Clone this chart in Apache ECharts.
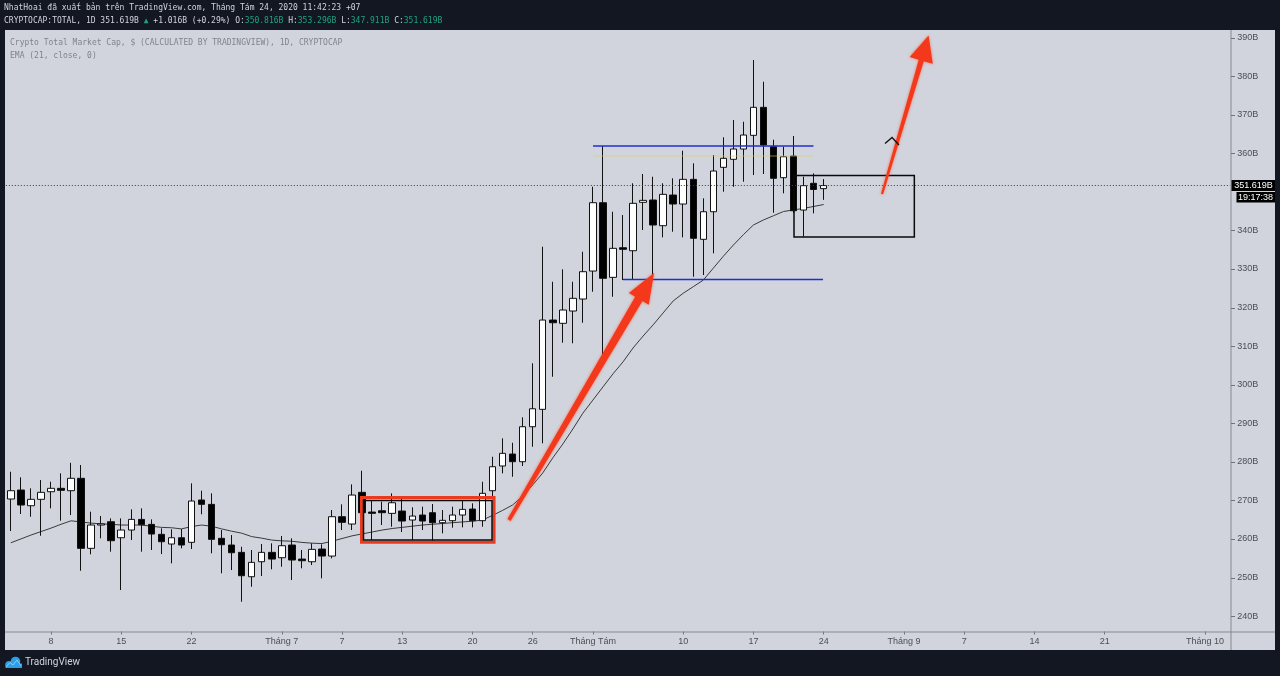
<!DOCTYPE html>
<html>
<head>
<meta charset="utf-8">
<script src="https://cdn.jsdelivr.net/npm/echarts@6/dist/echarts.min.js"></script>
<style>html,body{margin:0;padding:0;background:#131722;}#c{width:1280px;height:676px;}</style>
</head>
<body>
<div id="c"></div>
<script>
// ---------- DATA ----------
const firstDay = [2020, 5, 4];   // 2020-06-04
const dayCount = 122;            // axis runs to 2020-10-03
const categories = [];
for (let i = 0; i < dayCount; i++) {
  const d = new Date(Date.UTC(firstDay[0], firstDay[1], firstDay[2] + i));
  categories.push(d.toISOString().slice(0, 10));
}

const opens  = [270.35,272.68,268.61,270.27,272.24,273.12,272.50,275.72,257.56,263.60,
                264.46,260.31,262.31,265.07,263.78,261.19,258.68,260.31,259.12,270.09,
                268.96,260.16,258.42,256.52,250.20,254.09,256.52,255.13,258.42,254.78,
                254.09,257.38,255.56,265.76,263.86,272.08,266.97,267.31,266.63,267.23,
                264.90,266.20,266.80,264.21,264.73,266.20,267.75,264.73,272.50,278.91,
                282.01,280.02,289.09,293.60,316.75,315.90,319.09,322.20,329.45,347.17,
                327.82,335.50,334.72,347.27,347.87,341.21,349.16,346.83,353.23,337.68,
                344.83,356.34,358.42,361.09,364.64,371.90,361.69,353.66,359.27,345.27,
                352.20,350.816];
const closes = [272.50,268.79,270.27,272.08,273.12,272.60,275.72,257.56,263.60,263.90,
                259.54,262.31,265.07,263.69,261.27,259.28,260.31,258.42,269.83,268.96,
                259.89,258.50,256.42,250.46,253.93,256.52,254.78,258.24,254.53,254.35,
                257.30,255.56,265.76,264.30,271.38,266.80,266.63,266.80,269.38,264.64,
                265.93,264.64,264.21,264.82,266.20,267.67,264.73,271.82,278.72,282.19,
                280.02,289.09,293.75,316.75,316.05,319.35,322.38,329.28,347.17,327.57,
                335.34,335.08,347.01,347.78,341.39,349.34,346.83,353.23,337.94,344.83,
                355.39,358.68,361.09,364.72,371.90,362.13,353.49,359.09,345.09,351.58,
                350.603,351.619];
const lows   = [262.05,266.46,265.76,260.83,267.93,264.72,266.20,251.75,256.00,260.16,
                256.69,246.75,259.71,256.69,257.13,256.08,253.67,257.56,257.38,266.38,
                256.27,251.09,251.93,243.72,247.61,250.38,252.12,252.79,249.34,252.38,
                253.23,249.78,254.96,262.31,262.31,263.35,259.71,263.60,263.17,261.79,
                259.71,262.31,259.54,261.44,262.92,263.00,263.00,263.17,270.94,277.00,
                276.12,278.91,283.90,284.79,302.05,310.87,310.72,316.05,324.09,304.65,
                322.79,327.13,327.13,340.09,327.30,338.19,339.65,338.19,327.98,328.42,
                334.05,350.02,351.31,352.61,354.35,354.61,344.57,349.60,344.50,338.36,
                344.40,347.911];
const highs  = [277.42,275.97,273.12,275.27,274.83,277.00,279.73,279.16,267.06,265.93,
                265.33,265.33,267.67,267.93,265.07,262.75,262.49,262.57,274.41,272.50,
                271.82,262.31,261.01,257.98,257.13,258.68,258.86,260.75,260.16,257.13,
                258.86,258.59,267.49,268.97,274.15,277.68,269.90,269.66,271.82,270.94,
                268.19,268.36,269.05,267.49,268.36,269.90,269.23,274.83,281.31,286.08,
                284.94,291.53,305.53,335.76,326.69,329.90,326.69,334.46,351.31,361.87,
                344.83,343.98,352.20,354.61,353.91,352.20,353.49,360.65,357.38,348.31,
                359.53,364.13,368.61,368.17,384.16,378.54,363.50,361.69,364.46,353.91,
                354.78,353.296];
const ema21  = [259.0,260.0,261.0,261.9,262.8,263.8,264.7,264.4,264.1,263.9,
                263.8,263.6,263.6,263.6,263.3,263.0,262.9,262.6,263.2,263.6,
                263.3,262.6,262.0,261.5,260.6,260.2,259.7,259.5,259.4,259.1,
                258.9,258.8,259.4,260.1,260.8,261.3,261.8,262.3,262.7,263.0,
                263.3,263.6,263.8,264.0,264.2,264.4,264.6,264.9,266.1,267.4,
                268.8,271.1,274.0,277.1,281.0,284.6,288.5,292.6,296.0,299.4,
                302.8,305.9,309.5,312.6,315.5,318.6,321.7,323.7,325.4,327.1,
                330.2,333.3,336.2,338.9,341.4,342.7,343.8,344.9,345.3,345.7,
                346.2,346.7];
const lastPrice = 351.619;
const yTickValues = [240,250,260,270,280,290,300,310,320,330,340,360,370,380,390];
const xTickLabels = {
  '2020-06-08':'8','2020-06-15':'15','2020-06-22':'22','2020-07-01':'Tháng 7',
  '2020-07-07':'7','2020-07-13':'13','2020-07-20':'20','2020-07-26':'26',
  '2020-08-01':'Tháng Tám','2020-08-10':'10','2020-08-17':'17','2020-08-24':'24',
  '2020-09-01':'Tháng 9','2020-09-07':'7','2020-09-14':'14','2020-09-21':'21',
  '2020-10-01':'Tháng 10'
};
// drawings, in (day index, value) coordinates
const drawings = [
  {kind:'rect',  style:'redBox',    p:[[34.94,270.74],[48.15,259.13]]},
  {kind:'rect',  style:'blackBox',  p:[[35.14,269.96],[47.95,259.73]]},
  {kind:'line',  style:'yellowLine',p:[[58.01,359.28],[79.98,359.28]]},
  {kind:'line',  style:'blueLine',  p:[[58.01,361.87],[79.98,361.87]]},
  {kind:'line',  style:'blueLine',  p:[[61.00,327.26],[80.93,327.26]]},
  {kind:'rect',  style:'blackBox',  p:[[78.04,354.22],[90.03,338.28]]},
  {kind:'arrow', style:'bigArrow',  p:[[49.64,264.91],[64.09,328.95]]},
  {kind:'arrow', style:'thinArrow', p:[[86.81,349.43],[91.45,390.52]]},
  {kind:'poly',  style:'chevron',   p:[[87.11,362.52],[87.81,364.08],[88.50,362.13]]}
];

// ---------- STYLES ----------
const BG_DARK = '#131722';
const BG_LIGHT = '#d1d4dc';
const drawStyles = {
  redBox:    {stroke:'#ec3a1f', lineWidth:3},
  blackBox:  {stroke:'#0a0a0a', lineWidth:1.5},
  blueLine:  {stroke:'#1f2fd2', lineWidth:1.6},
  yellowLine:{stroke:'rgba(214,206,110,0.6)', lineWidth:1},
  bigArrow:  {fill:'#f3381c', w0:1.8, w1:4.2, hw:11.5, head:30},
  thinArrow: {fill:'#f3381c', w0:1.1, w1:2.6, hw:12, head:26},
  chevron:   {stroke:'#111', lineWidth:1.3}
};

const candleData = opens.map((o, i) => [o, closes[i], lows[i], highs[i]]);

function renderDrawing(params, api) {
  const d = drawings[api.value(2)];
  const s = drawStyles[d.style];
  const pts = d.p.map(p => api.coord(p));
  if (d.kind === 'rect') {
    const x = Math.min(pts[0][0], pts[1][0]), y = Math.min(pts[0][1], pts[1][1]);
    return {type:'rect', shape:{x:x, y:y, width:Math.abs(pts[1][0]-pts[0][0]), height:Math.abs(pts[1][1]-pts[0][1])},
            style:{fill:null, stroke:s.stroke, lineWidth:s.lineWidth}};
  }
  if (d.kind === 'line' || d.kind === 'poly') {
    return {type:'polyline', shape:{points:pts}, style:{fill:null, stroke:s.stroke, lineWidth:s.lineWidth}};
  }
  // arrow
  const t = pts[0], h = pts[1];
  const dx = h[0]-t[0], dy = h[1]-t[1], L = Math.hypot(dx, dy);
  const ux = dx/L, uy = dy/L, nx = -uy, ny = ux;
  const bx = h[0]-ux*s.head, by = h[1]-uy*s.head;
  const poly = [
    [t[0]+nx*s.w0, t[1]+ny*s.w0], [bx+nx*s.w1, by+ny*s.w1], [bx+nx*s.hw, by+ny*s.hw], h,
    [bx-nx*s.hw, by-ny*s.hw], [bx-nx*s.w1, by-ny*s.w1], [t[0]-nx*s.w0, t[1]-ny*s.w0]
  ];
  return {type:'polygon', shape:{points:poly},
          style:{fill:s.fill, shadowBlur:3, shadowColor:'rgba(255,70,30,0.7)'}};
}

const chart = echarts.init(document.getElementById('c'), null, {width:1280, height:676});
const MONO = '"DejaVu Sans Mono", monospace';
const NARROW = '"Liberation Sans Narrow", "Liberation Sans", Roboto, sans-serif';

const option = {
  backgroundColor: BG_DARK,
  animation: false,
  grid: {left:5.84, top:29.8, width:1224.3, height:601.7},
  xAxis: [
    {type:'category', data:categories, boundaryGap:true,
     axisLine:{show:false},
     axisTick:{show:true, alignWithLabel:true, length:3, lineStyle:{color:'#6f727a'},
               interval:(i, v) => xTickLabels.hasOwnProperty(v)},
     axisLabel:{show:true, interval:(i, v) => xTickLabels.hasOwnProperty(v),
                formatter:v => xTickLabels[v] || '', color:'#4b4e56', fontSize:9,
                fontFamily:NARROW, margin:6},
     splitLine:{show:false}},
    {type:'value', min:-0.5, max:dayCount-0.5, show:false}
  ],
  yAxis: {type:'value', position:'right', min:236, max:392, scale:true,
          axisLine:{show:false},
          axisTick:{show:false},
          axisLabel:{show:true, customValues:yTickValues, formatter:v => v + 'B', color:'#4b4e56',
                     fontSize:9, fontFamily:NARROW, margin:7},
          splitLine:{show:false}},
  graphic: [
    {type:'rect', z:-10, silent:true, shape:{x:5, y:30, width:1270, height:620}, style:{fill:BG_LIGHT}},
    {type:'line', z:100, silent:true, shape:{x1:1231, y1:30, x2:1231, y2:650}, style:{stroke:'#868991', lineWidth:1}},
    {type:'line', z:100, silent:true, shape:{x1:5, y1:632, x2:1275, y2:632}, style:{stroke:'#868991', lineWidth:1}},
    {type:'text', silent:true, left:4, top:4,
     style:{text:'NhatHoai đã xuất bản trên TradingView.com, Tháng Tám 24, 2020 11:42:23 +07',
            fill:'#d1d4dc', font:'8px ' + MONO}},
    {type:'text', silent:true, left:4, top:17,
     style:{text:'{a|CRYPTOCAP:TOTAL, 1D 351.619B }{g|▲}{a| +1.016B (+0.29%) O:}{g|350.816B}{a| H:}{g|353.296B}{a| L:}{g|347.911B}{a| C:}{g|351.619B}',
            rich:{a:{fill:'#d1d4dc', font:'8px ' + MONO}, g:{fill:'#22a083', font:'8px ' + MONO}}}},
    {type:'text', silent:true, left:10, top:39,
     style:{text:'Crypto Total Market Cap, $ (CALCULATED BY TRADINGVIEW), 1D, CRYPTOCAP',
            fill:'#80838b', font:'8px ' + MONO}},
    {type:'text', silent:true, left:10, top:52,
     style:{text:'EMA (21, close, 0)', fill:'#80838b', font:'8px ' + MONO}},
    // TradingView footer
    {type:'circle', silent:true, shape:{cx:9, cy:664.5, r:3.6}, style:{fill:'#2f9de4'}},
    {type:'circle', silent:true, shape:{cx:15.5, cy:661.5, r:4.8}, style:{fill:'#2f9de4'}},
    {type:'rect', silent:true, shape:{x:5.5, y:663.5, width:16.5, height:4.5}, style:{fill:'#2f9de4'}},
    {type:'polyline', silent:true, shape:{points:[[6,667],[10,662.5],[13,665],[17,660],[21,666]]}, style:{stroke:'#7fd0ff', lineWidth:1, fill:null}},
    {type:'text', silent:true, left:25, top:657,
     style:{text:'TradingView', fill:'#d1d4dc', font:'10px Roboto, sans-serif'}}
  ],
  series: [
    {type:'candlestick', name:'TOTAL', data:candleData, barWidth:7, z:3,
     itemStyle:{color:'#ffffff', color0:'#000000', borderColor:'#111111', borderColor0:'#111111', borderWidth:1},
     markLine:{silent:true, symbol:['none','none'], animation:false,
               lineStyle:{type:[1,2], color:'#3c3f46', width:1}, label:{show:false},
               data:[{yAxis:lastPrice}]}},
    {type:'line', name:'EMA', data:ema21, showSymbol:false, symbol:'none', z:2,
     lineStyle:{color:'#3a3a3a', width:1}},
    {type:'custom', name:'drawings', xAxisIndex:1, yAxisIndex:0, z:6, clip:false,
     data:drawings.map((d, i) => [d.p[0][0], d.p[0][1], i]),
     encode:{x:0, y:1}, renderItem:renderDrawing}
  ]
};
chart.setOption(option);

// price-scale tick marks (placed through the y scale) and last-price tags
const extra = yTickValues.map(v => {
  const y = Math.round(chart.convertToPixel({yAxisIndex:0}, v)) + 0.5;
  return {type:'line', z:110, silent:true, shape:{x1:1231, y1:y, x2:1235, y2:y}, style:{stroke:'#6f727a', lineWidth:1}};
});
const py = chart.convertToPixel({yAxisIndex:0}, lastPrice);
extra.push(
  {type:'rect', z:120, silent:true, shape:{x:1231.5, y:py-5.5, width:43.5, height:11}, style:{fill:'#000'}},
  {type:'text', z:121, silent:true, x:1253.5, y:py, style:{text:lastPrice.toFixed(3) + 'B', fill:'#ffffff',
     font:'9px ' + NARROW, align:'center', verticalAlign:'middle'}},
  {type:'rect', z:120, silent:true, shape:{x:1236.5, y:py+6.5, width:38.5, height:10.5}, style:{fill:'#000'}},
  {type:'text', z:121, silent:true, x:1255.5, y:py+11.8, style:{text:'19:17:38', fill:'#ffffff',
     font:'9px ' + NARROW, align:'center', verticalAlign:'middle'}}
);
chart.setOption({graphic: option.graphic.concat(extra)});
</script>
</body>
</html>
